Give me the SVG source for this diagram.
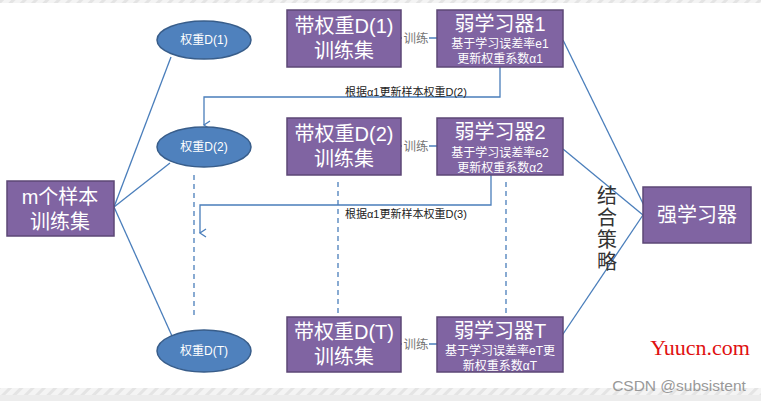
<svg xmlns="http://www.w3.org/2000/svg" width="761" height="401" viewBox="0 0 761 401">
<style>
.box{fill:#8064a2;stroke:#5c4776;stroke-width:1.5}
.ell{fill:#4f81bd;stroke:#385d8a;stroke-width:1.5}
.ln{stroke:#4a7ebb;stroke-width:1.3;fill:none}
.dash{stroke:#4a7ebb;stroke-width:1.3;fill:none;stroke-dasharray:5 4}
.t{font-family:"Liberation Sans","Noto Sans CJK SC",sans-serif;fill:#fff;text-anchor:middle}
.big{font-size:20px}
.sm{font-size:12px}
.lab{font-family:"Liberation Sans","Noto Sans CJK SC",sans-serif;font-size:11px;fill:#222}
.gr{font-family:"Liberation Sans","Noto Sans CJK SC",sans-serif;font-size:12.5px;fill:#777}
</style>
<defs>
<marker id="arr" markerWidth="10" markerHeight="10" refX="5" refY="8" orient="auto" markerUnits="userSpaceOnUse">
<path d="M1,2 L5,8 L9,2" fill="none" stroke="#4a7ebb" stroke-width="1.3"/>
</marker>
<pattern id="stripe" width="8" height="8" patternUnits="userSpaceOnUse" patternTransform="rotate(45)">
<rect width="8" height="8" fill="#f4f4f4"/>
<rect width="3" height="8" fill="#e4e4e4"/>
</pattern>
</defs>
<rect width="761" height="401" fill="#fff"/>
<rect x="0" y="0" width="761" height="3" fill="url(#stripe)"/>
<rect x="0" y="388" width="761" height="7" fill="url(#stripe)"/>
<rect x="0" y="395" width="761" height="6" fill="#ececec"/>

<g id="connectors">
<line class="ln" x1="114" y1="207" x2="171" y2="57"/>
<line class="ln" x1="114" y1="207" x2="170" y2="163"/>
<line class="ln" x1="114" y1="207" x2="172" y2="336"/>
<line class="ln" x1="401" y1="38" x2="437" y2="38"/>
<line class="ln" x1="401" y1="146" x2="437" y2="146"/>
<line class="ln" x1="401" y1="344" x2="437" y2="344"/>
<polyline class="ln" points="500,67 500,97 204,97 204,125" marker-end="url(#arr)"/>
<polyline class="ln" points="491,175 491,205 200,205 200,233" marker-end="url(#arr)"/>
<line class="dash" x1="194" y1="175" x2="194" y2="316"/>
<line class="dash" x1="338" y1="182" x2="338" y2="322"/>
<line class="dash" x1="506" y1="182" x2="506" y2="316"/>
<line class="ln" x1="563" y1="40" x2="655" y2="228"/>
<line class="ln" x1="563" y1="149" x2="643" y2="215"/>
<line class="ln" x1="557" y1="343" x2="643" y2="215"/>
<rect x="402" y="30" width="27" height="15" fill="#fff"/>
<text class="gr" x="416" y="43" text-anchor="middle">训练</text>
<rect x="402" y="138" width="27" height="15" fill="#fff"/>
<text class="gr" x="416" y="151" text-anchor="middle">训练</text>
<rect x="402" y="336" width="27" height="15" fill="#fff"/>
<text class="gr" x="416" y="349" text-anchor="middle">训练</text>
<text class="lab" x="345" y="96">根据α1更新样本权重D(2)</text>
<text class="lab" x="345" y="218">根据α1更新样本权重D(3)</text>
<g font-family="'Liberation Serif','Noto Sans CJK SC',serif" font-size="20" fill="#333" text-anchor="middle">
<text x="607" y="203">结</text>
<text x="607" y="225">合</text>
<text x="607" y="247">策</text>
<text x="607" y="269">略</text>
</g>
</g>

<g id="m_samples">
<rect class="box" x="7" y="181" width="107" height="55"/>
<text class="t big" x="60" y="204">m个样本</text>
<text class="t big" x="60" y="229">训练集</text>
</g>
<g id="w1">
<ellipse class="ell" cx="204" cy="40" rx="47" ry="19"/>
<text class="t sm" x="204" y="44">权重D(1)</text>
</g>
<g id="w2">
<ellipse class="ell" cx="204" cy="147" rx="47" ry="20"/>
<text class="t sm" x="204" y="151">权重D(2)</text>
</g>
<g id="wT">
<ellipse class="ell" cx="204" cy="351" rx="47" ry="21"/>
<text class="t sm" x="204" y="355">权重D(T)</text>
</g>
<g id="d1">
<rect class="box" x="287" y="10" width="114" height="57"/>
<text class="t big" x="344" y="33">带权重D(1)</text>
<text class="t big" x="344" y="58">训练集</text>
</g>
<g id="d2">
<rect class="box" x="287" y="118" width="114" height="57"/>
<text class="t big" x="344" y="141">带权重D(2)</text>
<text class="t big" x="344" y="166">训练集</text>
</g>
<g id="dT">
<rect class="box" x="287" y="317" width="114" height="55"/>
<text class="t big" x="344" y="339">带权重D(T)</text>
<text class="t big" x="344" y="364">训练集</text>
</g>
<g id="l1">
<rect class="box" x="437" y="10" width="126" height="57"/>
<text class="t big" x="500" y="31">弱学习器1</text>
<text class="t sm" x="500" y="48">基于学习误差率e1</text>
<text class="t sm" x="500" y="63">更新权重系数α1</text>
</g>
<g id="l2">
<rect class="box" x="437" y="118" width="126" height="57"/>
<text class="t big" x="500" y="139">弱学习器2</text>
<text class="t sm" x="500" y="157">基于学习误差率e2</text>
<text class="t sm" x="500" y="172">更新权重系数α2</text>
</g>
<g id="lT">
<rect class="box" x="437" y="317" width="126" height="55"/>
<text class="t big" x="500" y="338">弱学习器T</text>
<text class="t sm" x="500" y="355">基于学习误差率eT更</text>
<text class="t sm" x="500" y="370">新权重系数αT</text>
</g>
<g id="strong">
<rect class="box" x="643" y="187" width="108" height="56"/>
<text class="t big" x="697" y="222">强学习器</text>
</g>
<text x="700" y="355" font-family="'Liberation Serif',serif" font-size="22" fill="#e01010" text-anchor="middle">Yuucn.com</text>
<text x="679" y="391" font-family="'Liberation Sans',sans-serif" font-size="15.5" fill="#999" text-anchor="middle">CSDN @subsistent</text>
</svg>
